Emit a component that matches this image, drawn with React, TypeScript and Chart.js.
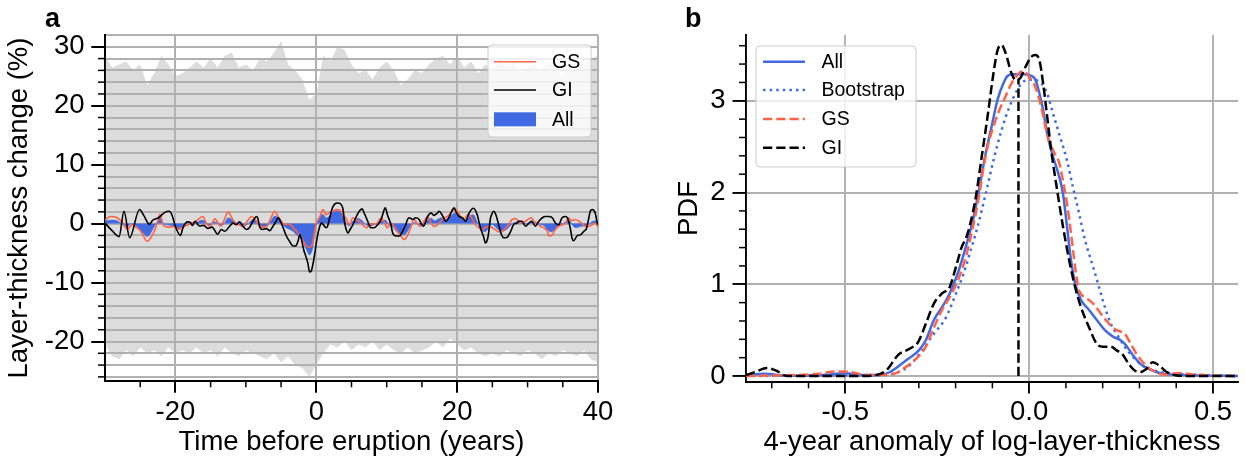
import React, { useEffect, useRef } from "react";
import { Chart, registerables } from "chart.js";

Chart.register(...registerables);

const FONT = "'Liberation Sans', Arial, Helvetica, sans-serif";
Chart.defaults.font.family = FONT;

const BLUE = "#4169e1";
const RED = "#ff6347";
const BLACK = "#000000";
const GRID = "#b0b0b0";
const BAND = "#dcdcdc";
const CLEAR = "rgba(0,0,0,0)";
const AXIS_FONT = 27.5;
const LEGEND_FONT = 19.5;

// ---------------- Panel a : layer-thickness change around eruptions ----------------
const bandYears = [
  -30, -29, -28, -27, -26, -25, -24, -23, -22, -21,
  -20, -19, -18, -17, -16, -15, -14, -13, -12, -11,
  -10, -9, -8, -7, -6, -5, -4, -3, -2, -1,
  0, 1, 2, 3, 4, 5, 6, 7, 8, 9,
  10, 11, 12, 13, 14, 15, 16, 17, 18, 19,
  20, 21, 22, 23, 24, 25, 26, 27, 28, 29,
  30, 31, 32, 33, 34, 35, 36, 37, 38, 39, 40,
];
const bandUpper = [
  28.5, 26.5, 27.0, 27.5, 26.0, 27.0, 23.5, 25.5, 28.5, 27.0,
  25.0, 25.5, 26.5, 27.5, 26.5, 28.0, 26.5, 28.5, 29.0, 26.5,
  27.0, 26.0, 28.0, 27.5, 29.0, 31.0, 27.0, 26.0, 24.5, 21.0,
  22.0, 28.5, 27.5, 30.0, 29.5, 27.0, 25.5, 26.0, 24.5, 26.5,
  27.5, 26.0, 23.5, 24.5, 26.0, 25.5, 27.0, 28.0, 28.5, 27.0,
  28.5, 26.5, 27.5, 25.5, 27.0, 26.0, 28.0, 26.5, 27.5, 25.5,
  26.5, 27.0, 26.0, 27.5, 26.0, 25.0, 27.0, 26.5, 27.0, 28.0, 28.5,
];
const bandLower = [
  -20.5, -22.5, -23.0, -21.5, -22.5, -21.0, -22.0, -21.5, -22.5, -21.0,
  -22.0, -21.5, -22.0, -21.0, -22.0, -21.5, -22.5, -21.0, -22.0, -22.5,
  -21.5, -22.0, -22.5, -23.0, -22.0, -23.5, -22.5, -24.0, -24.5, -26.0,
  -24.0, -22.0, -20.5, -21.0, -20.0, -21.5, -20.5, -21.0, -20.0, -21.5,
  -20.5, -21.5, -22.0, -21.0, -22.0, -21.5, -21.0, -20.0, -21.0, -19.5,
  -20.5, -21.5, -21.0, -22.0, -22.5, -22.0, -22.5, -21.5, -22.0, -22.5,
  -21.5, -22.0, -23.0, -22.0, -22.5, -21.5, -22.0, -22.5, -21.5, -23.0, -23.5,
];

const giYears = [
  -30, -29, -28, -27.3, -26.5, -25.1, -24.5, -23.7, -23.2, -22.4,
  -21.5, -20.9, -20.5, -20.0, -19.3, -18.9, -18.3, -17.9, -17.6, -17.2,
  -16.6, -16.0, -15.4, -14.8, -14.0, -13.5, -13.0, -12.3, -11.8, -11.35,
  -10.9, -10.4, -9.9, -9.5, -9.0, -8.5, -8.3, -8.0, -7.6, -7.1,
  -6.6, -6.15, -5.7, -5.45, -5.2, -4.7, -4.25, -3.8, -3.3, -2.95,
  -2.6, -2.35, -2.1, -1.8, -1.5, -1.2, -0.95, -0.7, -0.4, -0.1,
  0.2, 0.5, 0.75, 1.0, 1.4, 1.6, 1.9, 2.3, 2.6, 3.1,
  3.55, 3.8, 4.0, 4.25, 4.5, 4.8, 5.15, 5.6, 6.1, 6.5,
  6.8, 7.3, 7.75, 8.2, 8.7, 9.2, 9.65, 9.8, 10.1, 10.6,
  10.85, 11.3, 11.8, 12.25, 12.7, 12.95, 13.2, 13.7, 14.1, 14.6,
  14.85, 15.2, 15.55, 15.8, 16.3, 16.7, 17.2, 17.45, 17.9, 18.4,
  18.9, 19.35, 19.6, 19.8, 20.3, 20.75, 21.2, 21.7, 22.3, 22.85,
  23.3, 23.8, 24.0, 24.3, 24.5, 24.7, 25.0, 25.2, 25.5, 25.9,
  26.3, 26.6, 27.1, 27.6, 28.0, 28.5, 28.75, 29.2, 29.7, 30.2,
  30.6, 31.1, 31.6, 32.1, 32.5, 33.0, 33.5, 33.95, 34.4, 34.9,
  35.4, 35.75, 36.1, 36.3, 36.55, 37.0, 37.5, 38.0, 38.4, 38.7,
  38.9, 39.2, 39.6, 39.9, 40.0,
];
const giValues = [
  0.1, -1.2, -2.2, 2.1, -2.4, 2.4, 1.4, -0.1, 0.6, 1.0,
  1.9, 2.1, 1.5, -0.5, -2.0, -0.6, 0.3, 0.2, -0.3, 0.4,
  -0.4, -0.3, -0.8, -0.6, -1.8, -1.0, -1.3, -0.45, 0.1, -0.2,
  0.3, -0.5, -1.0, -0.7, 0.4, 1.2, 0.9, -0.7, -1.0, -0.85,
  -1.2, -0.45, 0.4, 1.0, 0.7, -0.7, -2.1, -3.0, -3.8, -3.8,
  -3.0, -1.9, -2.7, -4.4, -5.5, -6.7, -8.2, -8.0, -6.4, -4.1,
  -1.9, -0.45, 0.1, -0.2, -0.7, -0.45, 1.0, 2.7, 3.3, 3.5,
  3.2, 2.4, 0.4, -1.0, -1.6, -1.0, -0.3, 1.0, 2.1, 2.5,
  1.8, 0.4, -0.7, -0.7, -0.2, 0.7, 2.4, 2.7, 1.5, -0.2,
  -1.6, -2.1, -2.1, -1.3, -0.2, 0.7, 1.0, 0.7, 1.0, 0.7,
  0.1, -0.45, 0.4, 1.2, 1.8, 1.4, 1.8, 2.1, 1.4, 0.4,
  1.2, 2.4, 2.7, 2.1, 1.2, 1.0, 0.4, 1.8, 2.6, 1.5,
  -0.7, -2.4, -3.3, -2.7, -1.3, 0.7, 1.8, 2.1, 1.5, -0.2,
  -1.9, -2.4, -2.3, -1.3, -0.2, 0.1, 0.4, 0.4, -0.45, 0.1,
  0.4, -0.45, 0.4, 1.0, 1.2, 1.2, 1.0, 0.1, -0.2, 1.0,
  1.2, 0.7, -1.0, -2.4, -2.9, -2.1, -1.9, -1.3, -0.7, 1.0,
  2.1, 2.4, 1.8, 0.1, -0.2,
];

const gsYears = [
  -30, -29.2, -28.3, -27.6, -26.8, -26.1, -25.6, -25.0, -24.5, -24.05,
  -23.5, -23.0, -22.5, -22.2, -21.7, -21.0, -20.3, -19.6, -18.6, -17.8,
  -17.1, -16.1, -15.6, -15.1, -14.4, -13.6, -13.2, -12.5, -12.0, -11.6,
  -10.8, -10.3, -9.8, -9.2, -8.6, -8.3, -7.6, -7.0, -6.5, -5.9,
  -5.5, -5.0, -4.5, -3.8, -3.3, -2.8, -2.3, -1.8, -1.4, -0.95,
  -0.6, -0.4, 0.0, 0.5, 0.95, 1.4, 1.9, 2.4, 2.85, 3.3,
  3.8, 4.3, 4.7, 5.2, 5.6, 6.1, 6.6, 7.1, 7.5, 8.0,
  8.5, 9.2, 9.65, 10.1, 10.6, 11.0, 11.5, 12.0, 12.5, 13.0,
  13.4, 13.9, 14.4, 14.8, 15.3, 15.8, 16.3, 16.7, 17.2, 17.7,
  18.2, 18.6, 19.1, 19.6, 20.05, 20.5, 21.0, 21.5, 21.9, 22.6,
  23.1, 23.55, 24.0, 24.5, 25.0, 25.4, 25.9, 26.4, 26.9, 27.3,
  27.8, 28.3, 28.75, 29.2, 29.7, 30.2, 30.55, 30.9, 31.35, 31.8,
  32.3, 32.8, 33.0, 33.5, 33.95, 34.4, 34.9, 35.4, 35.85, 36.3,
  36.8, 37.3, 37.7, 38.2, 38.7, 39.15, 39.6, 40.0,
];
const gsValues = [
  0.6, 1.2, 1.0, 0.3, -0.9, -0.2, -0.6, -1.2, -2.2, -3.0,
  -2.4, -1.3, 0.5, 1.6, -0.3, -0.6, -0.5, -0.9, -0.4, 0.0,
  0.4, 1.2, 0.0, -0.5, 0.8, -0.4, 0.3, 2.0, 1.0, 0.2,
  -0.3, -0.4, 0.4, 1.2, 0.6, 0.0, -0.6, -0.4, 0.8, 2.1,
  1.4, 0.4, -0.1, -0.1, -0.7, -1.3, -2.1, -3.0, -3.8, -4.0,
  -3.6, -2.4, 0.0, 1.2, 2.4, 1.5, 1.9, 2.1, 2.4, 2.3,
  1.5, 0.7, -0.2, 1.0, 0.7, 0.4, -0.2, -0.7, -0.4, 0.0,
  -0.1, 1.0, 0.2, -0.7, 0.1, -0.4, -1.3, -2.1, -2.7, -1.9,
  -0.7, 0.7, -0.1, -0.5, 0.4, 1.2, 0.1, -0.5, -0.2, 0.4,
  1.0, 1.2, 1.8, 2.4, 2.1, 1.2, 0.7, 1.5, 1.3, -0.2,
  -0.7, -1.0, -0.7, -0.45, -0.7, -1.0, -1.4, -1.3, -0.7, -0.2,
  0.7, 0.85, 0.4, 0.1, 0.4, 0.85, 1.0, 0.4, 0.1, -0.45,
  -0.7, -1.3, -2.1, -1.9, -1.0, -0.45, -0.2, 0.1, 1.0, 0.5,
  0.7, 0.4, 0.0, -0.45, -0.45, -0.2, 0.1, -0.6,
];

const allYears = [
  -30, -29, -28.3, -27.8, -27.3, -26.8, -26.3, -25.8, -25.2, -24.6,
  -24.0, -23.5, -23.0, -22.5, -22.2, -21.8, -21.3, -20.6, -20.0, -19.5,
  -19.0, -18.4, -17.7, -17.1, -16.3, -15.8, -15.2, -14.6, -14.0, -13.5,
  -13.0, -12.5, -12.0, -11.4, -10.8, -10.2, -9.6, -9.0, -8.5, -8.0,
  -7.5, -7.0, -6.5, -5.9, -5.4, -4.9, -4.4, -3.8, -3.3, -2.9,
  -2.4, -1.9, -1.4, -1.0, -0.6, -0.3, 0.0, 0.4, 0.9, 1.4,
  1.9, 2.4, 2.9, 3.4, 3.9, 4.3, 4.7, 5.2, 5.8, 6.3,
  6.9, 7.5, 8.0, 8.5, 9.3, 9.8, 10.3, 10.8, 11.3, 11.9,
  12.5, 13.0, 13.5, 14.0, 14.6, 15.2, 15.7, 16.3, 16.8, 17.3,
  17.8, 18.3, 18.8, 19.4, 19.8, 20.3, 20.8, 21.3, 21.8, 22.3,
  22.8, 23.3, 23.9, 24.4, 24.9, 25.3, 25.8, 26.4, 27.0, 27.5,
  28.1, 28.7, 29.3, 29.8, 30.5, 31.1, 31.7, 32.3, 32.8, 33.2,
  33.7, 34.2, 34.8, 35.4, 35.9, 36.4, 36.9, 37.5, 38.0, 38.6,
  39.1, 39.6, 40.0,
];
const allValues = [
  0.5, 0.6, 0.5, 0.1, -0.3, -0.5, 0.0, -0.2, -0.8, -1.6,
  -2.2, -1.6, -0.5, 0.4, 1.0, 0.2, -0.2, -0.3, -0.6, -0.9,
  -0.5, 0.0, 0.2, 0.1, 0.6, 0.4, -0.3, 0.3, 0.1, -0.4,
  0.2, 1.0, 0.7, 0.2, -0.2, -0.4, 0.1, 0.7, 0.5, -0.4,
  -0.6, -0.5, 0.4, 1.3, 1.0, 0.0, -0.6, -1.0, -1.3, -1.8,
  -2.2, -3.1, -4.4, -5.3, -4.6, -2.5, -0.2, 0.8, 1.6, 1.0,
  1.3, 2.0, 2.2, 2.0, 1.0, 0.0, -0.4, 0.4, 0.9, 0.7,
  0.0, -0.5, -0.3, 0.0, 0.5, 0.6, -0.2, -0.5, -1.2, -1.8,
  -1.9, -1.2, -0.2, 0.2, -0.2, -0.3, 0.5, 0.9, 0.5, 0.8,
  1.0, 0.7, 1.0, 1.6, 1.8, 1.2, 0.9, 0.6, 1.3, 1.5,
  0.4, -0.8, -1.4, -0.9, -0.1, -0.4, -1.0, -1.3, -1.0, -0.4,
  0.2, 0.3, 0.1, -0.1, 0.3, 0.0, -0.2, -0.3, -1.0, -1.4,
  -1.2, -0.5, -0.1, 0.3, 0.6, -0.3, -0.7, -0.5, -0.4, -0.2,
  0.3, 0.5, 0.2,
];

const legendA = ["GS", "GI", "All"];

// ---------------- Panel b : PDFs of 4-year anomaly ----------------
const allX = [
  -0.77, -0.72, -0.66, -0.56, -0.5, -0.45, -0.41, -0.378, -0.335, -0.3,
  -0.281, -0.259, -0.237, -0.216, -0.194, -0.172, -0.151, -0.135, -0.118, -0.102,
  -0.086, -0.07, -0.059, -0.043, -0.021, 0.0, 0.017, 0.028, 0.038, 0.049,
  0.065, 0.082, 0.092, 0.103, 0.114, 0.125, 0.141, 0.163, 0.184, 0.206,
  0.228, 0.249, 0.26, 0.282, 0.303, 0.325, 0.357, 0.401, 0.455, 0.568,
];
const allPdf = [
  0.005, 0.025, 0.002, 0.01, 0.03, 0.01, 0.01, 0.044, 0.17, 0.28,
  0.39, 0.61, 0.75, 0.9, 1.12, 1.41, 1.73, 2.06, 2.43, 2.72,
  3.01, 3.19, 3.27, 3.29, 3.29, 3.28, 3.23, 3.08, 2.9, 2.64,
  2.39, 2.17, 1.99, 1.63, 1.26, 1.01, 0.83, 0.72, 0.61, 0.5,
  0.43, 0.39, 0.35, 0.23, 0.13, 0.08, 0.03, 0.015, 0.007, 0.0,
];
const bootX = [
  -0.77, -0.5, -0.41, -0.356, -0.324, -0.291, -0.259, -0.226, -0.199, -0.178,
  -0.156, -0.14, -0.118, -0.097, -0.075, -0.054, -0.032, -0.016, 0.011, 0.033,
  0.049, 0.065, 0.087, 0.103, 0.119, 0.136, 0.152, 0.174, 0.19, 0.206,
  0.222, 0.238, 0.26, 0.282, 0.314, 0.357, 0.401, 0.509, 0.568,
];
const bootPdf = [
  0.0, 0.007, 0.007, 0.044, 0.12, 0.28, 0.46, 0.64, 0.9, 1.12,
  1.41, 1.63, 1.99, 2.35, 2.68, 2.93, 3.12, 3.21, 3.23, 3.19,
  3.08, 2.86, 2.57, 2.35, 2.06, 1.77, 1.48, 1.19, 0.97, 0.75,
  0.57, 0.46, 0.32, 0.21, 0.1, 0.044, 0.025, 0.007, 0.0,
];
const gsX = [
  -0.77, -0.572, -0.529, -0.486, -0.443, -0.367, -0.335, -0.302, -0.281, -0.259,
  -0.237, -0.216, -0.194, -0.172, -0.151, -0.135, -0.124, -0.113, -0.097, -0.081,
  -0.065, -0.048, -0.032, -0.021, -0.01, 0.0, 0.017, 0.033, 0.049, 0.065,
  0.082, 0.092, 0.103, 0.114, 0.125, 0.136, 0.152, 0.174, 0.195, 0.217,
  0.238, 0.26, 0.271, 0.292, 0.314, 0.336, 0.368, 0.411, 0.444, 0.509, 0.568,
];
const gsPdf = [
  0.0, 0.025, 0.05, 0.044, 0.01, 0.025, 0.1, 0.21, 0.32, 0.53,
  0.72, 0.86, 1.04, 1.3, 1.66, 1.99, 2.28, 2.5, 2.72, 2.9,
  3.04, 3.19, 3.28, 3.32, 3.31, 3.26, 3.15, 2.93, 2.64, 2.46,
  2.32, 2.13, 1.88, 1.55, 1.19, 0.93, 0.86, 0.79, 0.68, 0.57,
  0.5, 0.46, 0.39, 0.24, 0.13, 0.06, 0.018, 0.033, 0.018, 0.004, 0.0,
];
const giX = [
  -0.77, -0.745, -0.713, -0.686, -0.659, -0.464, -0.421, -0.389, -0.356, -0.324,
  -0.302, -0.281, -0.259, -0.237, -0.216, -0.199, -0.183, -0.172, -0.162, -0.145,
  -0.129, -0.113, -0.097, -0.086, -0.075, -0.064, -0.048, -0.037, -0.026, -0.01,
  0.006, 0.017, 0.028, 0.038, 0.049, 0.06, 0.076, 0.092, 0.109, 0.125,
  0.141, 0.163, 0.184, 0.201, 0.222, 0.238, 0.255, 0.271, 0.287, 0.303,
  0.319, 0.336, 0.352, 0.374, 0.401, 0.444, 0.568,
];
const giPdf = [
  0.01, 0.044, 0.087, 0.055, 0.0, 0.0, 0.007, 0.06, 0.23, 0.3,
  0.37, 0.57, 0.79, 0.9, 0.97, 1.19, 1.41, 1.5, 1.63, 1.95,
  2.39, 2.83, 3.3, 3.55, 3.61, 3.52, 3.3, 3.23, 3.24, 3.37,
  3.48, 3.5, 3.44, 3.19, 2.83, 2.46, 2.03, 1.63, 1.26, 0.97,
  0.75, 0.53, 0.35, 0.32, 0.32, 0.28, 0.23, 0.13, 0.06, 0.044,
  0.08, 0.15, 0.12, 0.044, 0.007, 0.0, 0.0,
];
const medianX = [-0.029, -0.029];
const medianPdf = [0.0, 3.24];

const legendB = ["All", "Bootstrap", "GS", "GI"];

// ---------------- helpers ----------------
const pts = (xs: number[], ys: number[]) =>
  xs.slice(0, Math.min(xs.length, ys.length)).map((x, i) => ({ x, y: ys[i] }));

const DASH = [9.25, 4];
const DOT = [2.5, 4.1];

function makeAxis(cfg: any) {
  return {
    type: "linear",
    min: cfg.min,
    max: cfg.max,
    afterFit: (s: any) => {
      if (cfg.horizontal) s.height = cfg.size;
      else s.width = cfg.size;
    },
    ticks: {
      stepSize: cfg.step,
      includeBounds: false,
      autoSkip: false,
      maxRotation: 0,
      minRotation: 0,
      padding: cfg.tickPad,
      color: BLACK,
      font: { family: FONT, size: AXIS_FONT },
      callback: (v: any) => (cfg.isMajor(Number(v)) ? cfg.fmt(Number(v)) : ""),
    },
    grid: {
      color: (c: any) =>
        c.tick && (cfg.gridAll || cfg.isMajor(c.tick.value)) ? GRID : CLEAR,
      lineWidth: 1.9,
      drawTicks: true,
      tickLength: cfg.tickLen,
      tickWidth: 1.9,
      tickColor: (c: any) => (c.tick && cfg.isMajor(c.tick.value) ? BLACK : CLEAR),
    },
    border: { display: true, color: BLACK, width: 1.9 },
    title: {
      display: true,
      text: cfg.title,
      color: BLACK,
      font: { family: FONT, size: AXIS_FONT },
      padding: cfg.titlePad,
    },
  };
}

function roundRect(ctx: CanvasRenderingContext2D, x: number, y: number, w: number, h: number, r: number) {
  ctx.beginPath();
  ctx.moveTo(x + r, y);
  ctx.lineTo(x + w - r, y);
  ctx.arcTo(x + w, y, x + w, y + r, r);
  ctx.lineTo(x + w, y + h - r);
  ctx.arcTo(x + w, y + h, x + w - r, y + h, r);
  ctx.lineTo(x + r, y + h);
  ctx.arcTo(x, y + h, x, y + h - r, r);
  ctx.lineTo(x, y + r);
  ctx.arcTo(x, y, x + r, y, r);
  ctx.closePath();
}

// Grid lines sit on top of the grey band (as in matplotlib), below the data lines.
const gridOverBand = {
  id: "gridOverBand",
  afterDatasetDraw(chart: any, args: any) {
    const ds = chart.data.datasets[args.index];
    if (!ds || ds.label !== "band upper") return;
    const ctx = chart.ctx;
    for (const key of ["x", "y"]) {
      const s = chart.scales[key];
      if (s && typeof s.drawGrid === "function") {
        ctx.save();
        s.drawGrid(chart.chartArea);
        ctx.restore();
      }
    }
    for (const key of ["x", "y"]) {
      const s = chart.scales[key];
      if (s && typeof s.drawBorder === "function") {
        ctx.save();
        s.drawBorder();
        ctx.restore();
      }
    }
  },
};

function decorPlugin(d: any) {
  return {
    id: "decor" + d.letter,
    afterDraw(chart: any) {
      const ctx: CanvasRenderingContext2D = chart.ctx;
      const a = chart.chartArea;
      const sx = chart.scales.x;
      const sy = chart.scales.y;
      ctx.save();
      // minor tick marks
      ctx.strokeStyle = BLACK;
      ctx.lineWidth = 1.5;
      ctx.setLineDash([]);
      for (const t of sx.ticks) {
        if (d.isMajorX(t.value)) continue;
        const p = sx.getPixelForValue(t.value);
        if (p < a.left + 1 || p > a.right - 1) continue;
        ctx.beginPath();
        ctx.moveTo(p, a.bottom);
        ctx.lineTo(p, a.bottom + d.minorX);
        ctx.stroke();
      }
      for (const t of sy.ticks) {
        if (d.isMajorY(t.value)) continue;
        const p = sy.getPixelForValue(t.value);
        if (p < a.top + 1 || p > a.bottom - 1) continue;
        ctx.beginPath();
        ctx.moveTo(a.left, p);
        ctx.lineTo(a.left - d.minorY, p);
        ctx.stroke();
      }
      // legend
      const L = d.legend;
      roundRect(ctx, L.x, L.y, L.w, L.h, 4);
      ctx.fillStyle = "rgba(255,255,255,0.8)";
      ctx.fill();
      ctx.strokeStyle = "#cccccc";
      ctx.lineWidth = 1;
      ctx.stroke();
      ctx.font = `${LEGEND_FONT}px ${FONT}`;
      ctx.textBaseline = "middle";
      ctx.textAlign = "left";
      L.items.forEach((it: any, i: number) => {
        const y = L.rows[i];
        if (it.kind === "rect") {
          ctx.fillStyle = it.color;
          ctx.fillRect(L.hx0, y - 7, L.hx1 - L.hx0, 14);
        } else {
          ctx.strokeStyle = it.color;
          ctx.lineWidth = it.width;
          ctx.setLineDash(it.dash || []);
          ctx.beginPath();
          ctx.moveTo(L.hx0, y);
          ctx.lineTo(L.hx1, y);
          ctx.stroke();
          ctx.setLineDash([]);
        }
        ctx.fillStyle = BLACK;
        ctx.fillText(it.label, L.tx, y + 1);
      });
      // panel letter
      ctx.font = `bold 27px ${FONT}`;
      ctx.textBaseline = "alphabetic";
      ctx.fillStyle = BLACK;
      ctx.fillText(d.letter, d.letterX, d.letterY);
      ctx.restore();
    },
  };
}

const isMajorAX = (v: number) => Number.isFinite(v) && Math.abs(v % 20) < 1e-9;
const isMajorAY = (v: number) => Number.isFinite(v) && Math.abs(v % 10) < 1e-9;
const isMajorBX = (v: number) => Number.isFinite(v) && Math.abs(v * 2 - Math.round(v * 2)) < 1e-6;
const isMajorBY = (v: number) => Number.isFinite(v) && Math.abs(v - Math.round(v)) < 1e-6;

function configA(): any {
  const line = { pointRadius: 0, cubicInterpolationMode: "monotone", fill: false };
  return {
    type: "line",
    data: {
      datasets: [
        { label: legendA[1], data: pts(giYears, giValues), borderColor: BLACK, borderWidth: 1.6, order: 0, ...line },
        { label: legendA[0], data: pts(gsYears, gsValues), borderColor: RED, borderWidth: 1.6, order: 1, ...line },
        {
          label: legendA[2], data: pts(allYears, allValues), borderColor: BLUE, borderWidth: 0.5,
          backgroundColor: BLUE, pointRadius: 0, cubicInterpolationMode: "monotone", fill: "origin", order: 2,
        },
        {
          label: "band upper", data: pts(bandYears, bandUpper), borderWidth: 0, borderColor: CLEAR,
          backgroundColor: BAND, pointRadius: 0, fill: "+1", order: 3,
        },
        {
          label: "band lower", data: pts(bandYears, bandLower), borderWidth: 0, borderColor: CLEAR,
          pointRadius: 0, fill: false, order: 4,
        },
      ],
    },
    options: {
      animation: false,
      responsive: false,
      maintainAspectRatio: false,
      devicePixelRatio: 1,
      layout: { padding: { top: 35, right: 22, bottom: 0, left: 0 } },
      plugins: { legend: { display: false }, tooltip: { enabled: false } },
      scales: {
        x: makeAxis({
          min: -30, max: 40, step: 5, size: 82, horizontal: true, isMajor: isMajorAX,
          fmt: (v: number) => String(v), gridAll: false, title: "Time before eruption (years)",
          titlePad: { top: 0, bottom: 4 }, tickPad: 3, tickLen: 11.5,
        }),
        y: makeAxis({
          min: -26.7, max: 32, step: 2, size: 105, horizontal: false, isMajor: isMajorAY,
          fmt: (v: number) => String(v), gridAll: true, title: "Layer-thickness change (%)",
          titlePad: { top: 3, bottom: 0 }, tickPad: 7, tickLen: 13.5,
        }),
      },
    },
    plugins: [
      gridOverBand,
      decorPlugin({
        letter: "a", letterX: 45, letterY: 26.5, isMajorX: isMajorAX, isMajorY: isMajorAY,
        minorX: 6.3, minorY: 7,
        legend: {
          x: 488, y: 45, w: 103, h: 92, hx0: 494, hx1: 536, tx: 552, rows: [61.7, 90, 119.3],
          items: [
            { kind: "line", color: RED, width: 1.6, label: legendA[0] },
            { kind: "line", color: BLACK, width: 1.6, label: legendA[1] },
            { kind: "rect", color: BLUE, label: legendA[2] },
          ],
        },
      }),
    ],
  };
}

function configB(): any {
  const line = { pointRadius: 0, cubicInterpolationMode: "monotone", fill: false, borderWidth: 2.5 };
  return {
    type: "line",
    data: {
      datasets: [
        { label: legendB[0], data: pts(allX, allPdf), borderColor: BLUE, order: 4, ...line },
        { label: legendB[1], data: pts(bootX, bootPdf), borderColor: BLUE, borderDash: DOT, order: 3, ...line },
        { label: legendB[2], data: pts(gsX, gsPdf), borderColor: RED, borderDash: DASH, order: 2, ...line },
        { label: legendB[3], data: pts(giX, giPdf), borderColor: BLACK, borderDash: DASH, order: 1, ...line },
        { label: "median", data: pts(medianX, medianPdf), borderColor: BLACK, borderDash: DASH, order: 0, pointRadius: 0, fill: false, borderWidth: 2.5 },
      ],
    },
    options: {
      animation: false,
      responsive: false,
      maintainAspectRatio: false,
      devicePixelRatio: 1,
      layout: { padding: { top: 35, right: 7, bottom: 0, left: 0 } },
      plugins: { legend: { display: false }, tooltip: { enabled: false } },
      scales: {
        x: makeAxis({
          min: -0.77, max: 0.568, step: 0.1, size: 81, horizontal: true, isMajor: isMajorBX,
          fmt: (v: number) => (Math.abs(v) < 1e-9 ? 0 : v).toFixed(1), gridAll: false,
          title: "4-year anomaly of log-layer-thickness", titlePad: { top: 0, bottom: 4 }, tickPad: 2,
          tickLen: 11.5,
        }),
        y: makeAxis({
          min: -0.065, max: 3.717, step: 0.2, size: 126, horizontal: false, isMajor: isMajorBY,
          fmt: (v: number) => String(Math.round(v)), gridAll: false, title: "PDF",
          titlePad: { top: 53, bottom: 0 }, tickPad: 7, tickLen: 13.5,
        }),
      },
    },
    plugins: [
      decorPlugin({
        letter: "b", letterX: 65, letterY: 27, isMajorX: isMajorBX, isMajorY: isMajorBY,
        minorX: 6.3, minorY: 7,
        legend: {
          x: 136, y: 46, w: 160, h: 121, hx0: 143, hx1: 185, tx: 201.5, rows: [61.7, 90, 119, 147.7],
          items: [
            { kind: "line", color: BLUE, width: 2.5, label: legendB[0] },
            { kind: "line", color: BLUE, width: 2.5, dash: DOT, label: legendB[1] },
            { kind: "line", color: RED, width: 2.5, dash: DASH, label: legendB[2] },
            { kind: "line", color: BLACK, width: 2.5, dash: DASH, label: legendB[3] },
          ],
        },
      }),
    ],
  };
}

export default function App() {
  const refA = useRef<HTMLCanvasElement>(null);
  const refB = useRef<HTMLCanvasElement>(null);
  useEffect(() => {
    const ca = new Chart(refA.current as HTMLCanvasElement, configA());
    const cb = new Chart(refB.current as HTMLCanvasElement, configB());
    return () => {
      ca.destroy();
      cb.destroy();
    };
  }, []);
  return (
    <div
      style={{
        position: "fixed",
        left: 0,
        top: 0,
        width: 1245,
        height: 463,
        background: "#ffffff",
        overflow: "hidden",
      }}
    >
      <canvas
        ref={refA}
        width={620}
        height={463}
        style={{ position: "absolute", left: 0, top: 0, width: 620, height: 463 }}
      />
      <canvas
        ref={refB}
        width={625}
        height={463}
        style={{ position: "absolute", left: 620, top: 0, width: 625, height: 463 }}
      />
    </div>
  );
}
